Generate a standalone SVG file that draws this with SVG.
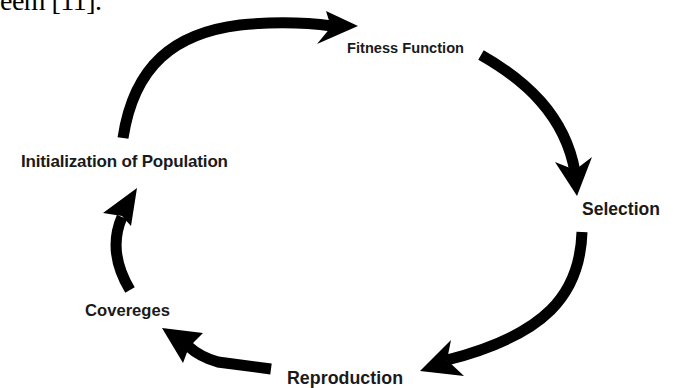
<svg xmlns="http://www.w3.org/2000/svg" width="673" height="388" viewBox="0 0 673 388">
<style>
.bg{fill:#ffffff}
.lbl{font-family:"Liberation Sans",Arial,sans-serif;font-weight:bold;fill:#1a1a1a}
.shaft{fill:none;stroke:#000;stroke-width:11;stroke-linecap:butt}
.head{fill:#000;stroke:none}
.page{font-family:"Liberation Serif","Times New Roman",serif;fill:#000}
</style>
<rect class="bg" x="0" y="0" width="673" height="388"/>
<text class="page" x="0" y="10" font-size="28" textLength="102">eem [11].</text>
<g id="connectors">
  <g id="edge-init-fitness">
    <path class="shaft" d="M123,138 C134,65 175,33 240,25 C280,21 310,23 332,26"/>
    <polygon class="head" points="358,26 326,11 331,27 317,44"/>
  </g>
  <g id="edge-fitness-selection">
    <path class="shaft" d="M481,55 C525,80 565,115 575,172"/>
    <polygon class="head" points="577,196 555,162 575,170 592,157"/>
  </g>
  <g id="edge-selection-reproduction">
    <path class="shaft" d="M582,232 C580,295 545,335 447,360"/>
    <polygon class="head" points="420,371 451,340 447,360 464,376"/>
  </g>
  <g id="edge-reproduction-covereges">
    <path class="shaft" d="M271,369 L218,362 Q200,357 188,346"/>
    <polygon class="head" points="162,328 203,333 189,347 183,363"/>
  </g>
  <g id="edge-covereges-init">
    <path class="shaft" d="M130,290 C115,265 112,240 122,217"/>
    <polygon class="head" points="137,188 103,213 122,216 131,226"/>
  </g>
</g>
<g id="node-fitness"><text class="lbl" x="347" y="53" font-size="14.6" textLength="117" fill="#2a2a2a">Fitness Function</text></g>
<g id="node-selection"><text class="lbl" x="582" y="215" font-size="17.5" textLength="78">Selection</text></g>
<g id="node-reproduction"><text class="lbl" x="287" y="384" font-size="17.8" textLength="116">Reproduction</text></g>
<g id="node-covereges"><text class="lbl" x="85" y="316" font-size="16.6" textLength="85">Covereges</text></g>
<g id="node-init"><text class="lbl" x="21" y="167" font-size="17" textLength="207">Initialization of Population</text></g>
</svg>
